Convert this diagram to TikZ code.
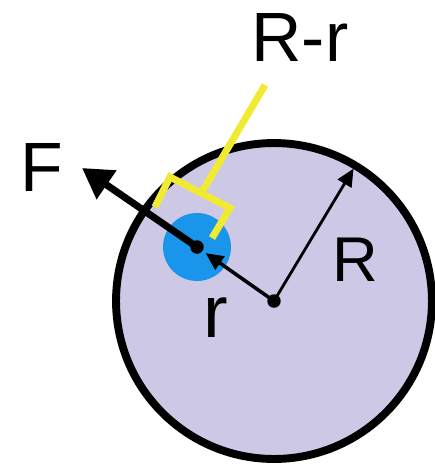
\documentclass[tikz,border=0pt]{standalone}
\usepackage{fontspec}
\setmainfont{Liberation Sans}
\usetikzlibrary{arrows.meta}
\definecolor{Lavender}{RGB}{205,200,230}
\definecolor{Sky}{RGB}{25,150,235}
\definecolor{Lemon}{RGB}{240,235,50}
\tikzset{
  >=Latex,
  body/.style={circle,draw=black,line width=4.5pt,fill=Lavender,minimum size=6.32cm,inner sep=0pt,outer sep=0pt},
  mass/.style={circle,fill=Sky,minimum size=1.36cm,inner sep=0pt},
  dot/.style={circle,fill=black,minimum size=.27cm,inner sep=0pt},
  lbl/.style={inner sep=0pt,text=black,font=\fontsize{39.7pt}{40pt}\selectfont},
  lblsmall/.style={lbl,font=\fontsize{36pt}{36pt}\selectfont},
  force/.style={-{Triangle[length=17pt,width=19pt]},line width=4pt},
  arm/.style={-{Triangle[length=10pt,width=9pt]},line width=2pt},
  gap/.style={draw=Lemon,line width=4pt,line join=miter}
}

\begin{document}
\begin{tikzpicture}[x=0.02cm,y=-0.02cm]
  \useasboundingbox (0,0) rectangle (434,464);
  \node[body] (big) at (274,301) {};
  \node[mass] (small) at (197,247) {};
  % yellow bracket for R-r
  \draw[gap] (265,85) -- (202,192);
  \draw[gap] (155,207) -- (170,177) -- (230,208) -- (212,238);
  \node[dot] (s) at (197,247) {};
  \node[dot] (c) at (274,301) {};
  \coordinate (Ftip) at (82,168);
  \draw[force] (s.center) -- (Ftip);
  \draw[arm,shorten >=6pt] (c.center) -- (s.center);
  \draw[arm,line width=1.6pt,shorten >=2pt] (c.center) -- (big.59);
  \node[lbl] (lF) at (42,168) {F};
  \node[lbl] (lRr) at (300,37) {R-r};
  \node[lblsmall] (lR) at (355,260) {R};
  \node[lbl,font=\fontsize{42pt}{42pt}\selectfont] (lr) at (216,318) {r};
\end{tikzpicture}
\end{document}
